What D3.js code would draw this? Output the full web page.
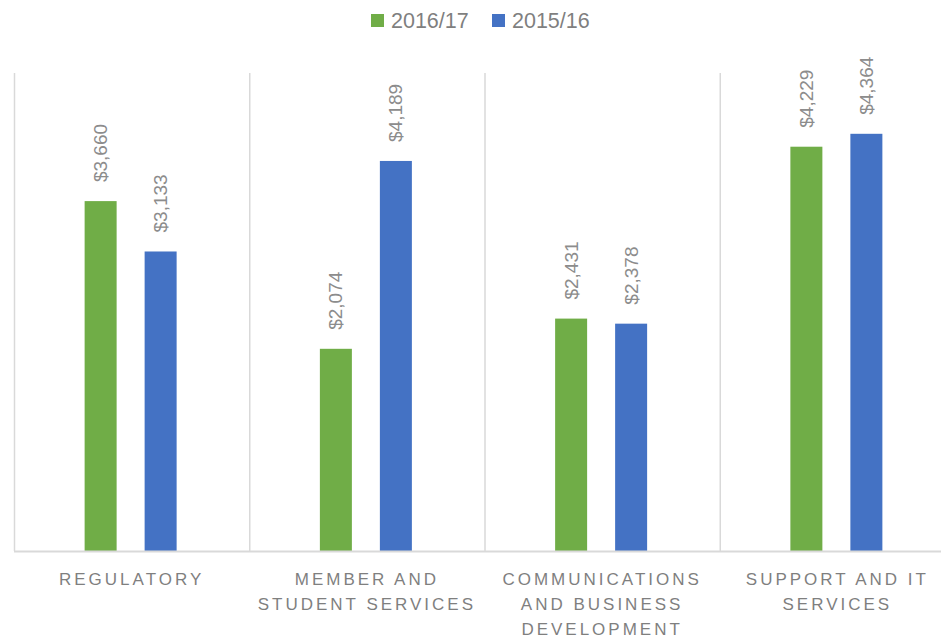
<!DOCTYPE html>
<html>
<head>
<meta charset="utf-8">
<script src="https://cdn.jsdelivr.net/npm/d3@7"></script>
<style>
  html, body { margin: 0; padding: 0; background: #fff; }
  svg { display: block; font-family: "Liberation Sans", Arial, sans-serif; }
</style>
</head>
<body>
<svg id="chart" width="941" height="636"></svg>
<script>
const categories = [
  ["REGULATORY"],
  ["MEMBER AND", "STUDENT SERVICES"],
  ["COMMUNICATIONS", "AND BUSINESS", "DEVELOPMENT"],
  ["SUPPORT AND IT", "SERVICES"]
];
const seriesNames = ["2016/17", "2015/16"];
// bar heights as drawn in the reference
const values2016 = [3660, 2115, 2431, 4229];
const values2015 = [3133, 4080, 2378, 4364];
// data label texts as printed in the reference
const labels2016 = [3660, 2074, 2431, 4229];
const labels2015 = [3133, 4189, 2378, 4364];
const colors = ["#70ad47", "#4472c4"];

const svg = d3.select("#chart");
const plotLeft = 14, plotRight = 955, plotTop = 73, plotBottom = 551;
const catKeys = categories.map((c, i) => i);
const x0 = d3.scaleBand().domain(catKeys).range([plotLeft, plotRight]);
const bw = x0.bandwidth();
const x1 = d3.scaleBand().domain(seriesNames)
  .range([bw / 2 - 47, bw / 2 + 45]).paddingInner(0.4667).paddingOuter(0);
const y = d3.scaleLinear().domain([0, 5000]).range([plotBottom, plotTop]);

const gridColor = "#d9d9d9";
const textColor = "#7f7f7f";

// vertical separators
svg.append("g").selectAll("line")
  .data(catKeys)
  .join("line")
  .attr("x1", d => x0(d) + 0.5).attr("x2", d => x0(d) + 0.5)
  .attr("y1", y(5000)).attr("y2", y(0))
  .attr("stroke", gridColor).attr("stroke-width", 1.5);

const data = catKeys.map(i => ({
  i,
  vals: [values2016[i], values2015[i]],
  labs: [labels2016[i], labels2015[i]]
}));

const groups = svg.append("g").selectAll("g")
  .data(data).join("g")
  .attr("transform", d => `translate(${x0(d.i)},0)`);

groups.selectAll("rect")
  .data(d => d.vals.map((v, k) => ({ v, k })))
  .join("rect")
  .attr("x", d => x1(seriesNames[d.k]))
  .attr("width", x1.bandwidth())
  .attr("y", d => y(d.v))
  .attr("height", d => y(0) - y(d.v))
  .attr("fill", d => colors[d.k]);

groups.selectAll("text.lbl")
  .data(d => d.vals.map((v, k) => ({ v, k, lab: d.labs[k] })))
  .join("text")
  .attr("class", "lbl")
  .attr("transform", d => `translate(${x1(seriesNames[d.k]) + x1.bandwidth() / 2 + 6.5},${y(d.v) - 19}) rotate(-90)`)
  .attr("text-anchor", "start")
  .attr("font-size", 19)
  .attr("fill", "#8c8c8c")
  .text(d => "$" + d3.format(",")(d.lab));

// baseline
svg.append("line")
  .attr("x1", plotLeft).attr("x2", 941)
  .attr("y1", y(0) + 0.5).attr("y2", y(0) + 0.5)
  .attr("stroke", gridColor).attr("stroke-width", 2);

// category labels
const catG = svg.append("g");
categories.forEach((lines, i) => {
  const t = catG.append("text")
    .attr("text-anchor", "middle")
    .attr("font-size", 17)
    .attr("letter-spacing", "3px")
    .attr("fill", textColor);
  lines.forEach((ln, j) => {
    t.append("tspan")
      .attr("x", x0(i) + bw / 2)
      .attr("y", 585 + j * 25)
      .text(ln);
  });
});

// legend
const legend = svg.append("g");
const legendX = [371, 492];
seriesNames.forEach((s, k) => {
  legend.append("rect")
    .attr("x", legendX[k]).attr("y", 14)
    .attr("width", 13).attr("height", 13)
    .attr("fill", colors[k]);
  legend.append("text")
    .attr("x", legendX[k] + 20).attr("y", 28)
    .attr("font-size", 21.5)
    .attr("fill", textColor)
    .text(s);
});
</script>
</body>
</html>
